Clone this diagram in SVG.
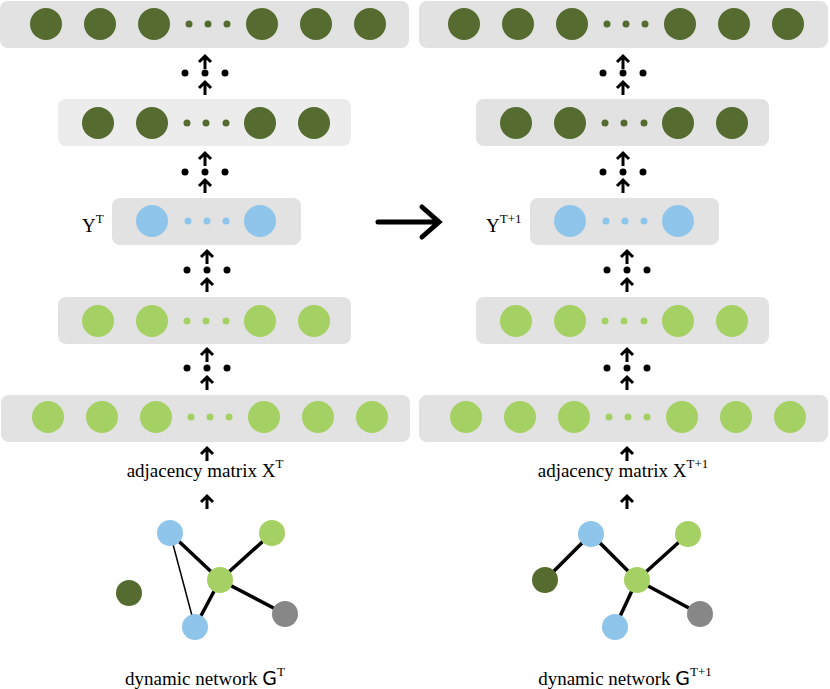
<svg xmlns="http://www.w3.org/2000/svg" width="830" height="689" viewBox="0 0 830 689">
<style>
.bar{fill:#e2e2e2}
.dg{fill:#566b30}.lg{fill:#a5d063}.bl{fill:#8fc5eb}.gr{fill:#878787}
.t{font-family:"Liberation Serif",serif;font-size:19px;fill:#000}
.e{stroke:#000;stroke-width:3.5}
.et{stroke:#000;stroke-width:1.5}
.ar{stroke:#000;stroke-width:3;fill:none}
</style>
<defs>
<g id="up"><path d="M0 14V2M-6 7L0 1L6 7" class="ar"/></g>
<g id="dots"><circle cx="-20" cy="0" r="3.5"/><circle cx="0" cy="0" r="3.5"/><circle cx="20" cy="0" r="3.5"/></g>
</defs>
<g id="left">
<g id="L1"><rect class="bar" x="0" y="1" width="409" height="47" rx="8"/>
<g class="dg"><circle cx="46" cy="24" r="16"/><circle cx="100" cy="24" r="16"/><circle cx="154" cy="24" r="16"/><circle cx="189" cy="24" r="3.5"/><circle cx="208" cy="24" r="3.5"/><circle cx="227" cy="24" r="3.5"/><circle cx="262" cy="24" r="16"/><circle cx="316" cy="24" r="16"/><circle cx="370" cy="24" r="16"/></g></g>
<g id="L2"><rect fill="#ececec" x="58" y="99" width="293" height="47" rx="8"/>
<g class="dg"><circle cx="98" cy="123" r="16"/><circle cx="152" cy="123" r="16"/><circle cx="187" cy="123" r="3.5"/><circle cx="206" cy="123" r="3.5"/><circle cx="226" cy="123" r="3.5"/><circle cx="260" cy="123" r="16"/><circle cx="314" cy="123" r="16"/></g></g>
<g id="L3"><rect class="bar" x="112" y="198" width="189" height="47" rx="8"/>
<g class="bl"><circle cx="152" cy="221" r="16"/><circle cx="188" cy="221" r="3.5"/><circle cx="207" cy="221" r="3.5"/><circle cx="226" cy="221" r="3.5"/><circle cx="260" cy="221" r="16"/></g>
<text class="t" x="82" y="232">Y<tspan font-size="13" dy="-9">T</tspan></text></g>
<g id="L4"><rect class="bar" x="58" y="297" width="293" height="47" rx="8"/>
<g class="lg"><circle cx="98" cy="321" r="16"/><circle cx="152" cy="321" r="16"/><circle cx="187" cy="321" r="3.5"/><circle cx="206" cy="321" r="3.5"/><circle cx="226" cy="321" r="3.5"/><circle cx="260" cy="321" r="16"/><circle cx="314" cy="321" r="16"/></g></g>
<g id="L5"><rect class="bar" x="1" y="395" width="409" height="47" rx="8"/>
<g class="lg"><circle cx="48" cy="417" r="16"/><circle cx="102" cy="417" r="16"/><circle cx="156" cy="417" r="16"/><circle cx="191" cy="417" r="3.5"/><circle cx="210" cy="417" r="3.5"/><circle cx="229" cy="417" r="3.5"/><circle cx="264" cy="417" r="16"/><circle cx="318" cy="417" r="16"/><circle cx="372" cy="417" r="16"/></g></g>
<text class="t" x="205" y="477" text-anchor="middle">adjacency matrix X<tspan font-size="13" dy="-9">T</tspan></text>
<g id="LG">
<line class="e" x1="170" y1="533" x2="220" y2="580"/><line class="e" x1="272" y1="533" x2="220" y2="580"/>
<line class="et" x1="170" y1="533" x2="195" y2="627"/><line class="e" x1="220" y1="580" x2="195" y2="627"/><line class="e" x1="220" y1="580" x2="285" y2="614"/>
<circle class="bl" cx="170" cy="533" r="13"/><circle class="lg" cx="272" cy="533" r="13"/><circle class="lg" cx="220" cy="580" r="13"/><circle class="dg" cx="129" cy="593" r="13"/><circle class="bl" cx="195" cy="627" r="13"/><circle class="gr" cx="285" cy="614" r="13"/></g>
<text class="t" x="205" y="685" text-anchor="middle">dynamic network  <tspan font-family="DejaVu Sans">G</tspan><tspan font-size="13" dy="-9">T</tspan></text>
</g>
<g id="right">
<g id="R1"><rect class="bar" x="419" y="1" width="409" height="47" rx="8"/>
<g class="dg"><circle cx="464" cy="24" r="16"/><circle cx="518" cy="24" r="16"/><circle cx="572" cy="24" r="16"/><circle cx="607" cy="24" r="3.5"/><circle cx="626" cy="24" r="3.5"/><circle cx="645" cy="24" r="3.5"/><circle cx="680" cy="24" r="16"/><circle cx="734" cy="24" r="16"/><circle cx="788" cy="24" r="16"/></g></g>
<g id="R2"><rect class="bar" x="476" y="99" width="293" height="47" rx="8"/>
<g class="dg"><circle cx="516" cy="123" r="16"/><circle cx="570" cy="123" r="16"/><circle cx="605" cy="123" r="3.5"/><circle cx="624" cy="123" r="3.5"/><circle cx="644" cy="123" r="3.5"/><circle cx="678" cy="123" r="16"/><circle cx="732" cy="123" r="16"/></g></g>
<g id="R3"><rect class="bar" x="530" y="198" width="189" height="47" rx="8"/>
<g class="bl"><circle cx="570" cy="221" r="16"/><circle cx="606" cy="221" r="3.5"/><circle cx="625" cy="221" r="3.5"/><circle cx="644" cy="221" r="3.5"/><circle cx="678" cy="221" r="16"/></g>
<text class="t" x="486" y="232">Y<tspan font-size="13" dy="-9">T+1</tspan></text></g>
<g id="R4"><rect class="bar" x="476" y="297" width="293" height="47" rx="8"/>
<g class="lg"><circle cx="516" cy="321" r="16"/><circle cx="570" cy="321" r="16"/><circle cx="605" cy="321" r="3.5"/><circle cx="624" cy="321" r="3.5"/><circle cx="644" cy="321" r="3.5"/><circle cx="678" cy="321" r="16"/><circle cx="732" cy="321" r="16"/></g></g>
<g id="R5"><rect class="bar" x="419" y="395" width="409" height="47" rx="8"/>
<g class="lg"><circle cx="466" cy="417" r="16"/><circle cx="520" cy="417" r="16"/><circle cx="574" cy="417" r="16"/><circle cx="609" cy="417" r="3.5"/><circle cx="628" cy="417" r="3.5"/><circle cx="647" cy="417" r="3.5"/><circle cx="682" cy="417" r="16"/><circle cx="736" cy="417" r="16"/><circle cx="790" cy="417" r="16"/></g></g>
<text class="t" x="623" y="477" text-anchor="middle">adjacency matrix X<tspan font-size="13" dy="-9">T+1</tspan></text>
<g id="RG">
<line class="e" x1="591" y1="534" x2="545" y2="580"/><line class="e" x1="591" y1="534" x2="637" y2="580"/><line class="e" x1="688" y1="534" x2="637" y2="580"/>
<line class="e" x1="637" y1="580" x2="615" y2="627"/><line class="e" x1="637" y1="580" x2="700" y2="614"/>
<circle class="bl" cx="591" cy="534" r="13"/><circle class="lg" cx="688" cy="534" r="13"/><circle class="lg" cx="637" cy="580" r="13"/><circle class="dg" cx="545" cy="580" r="13"/><circle class="bl" cx="615" cy="627" r="13"/><circle class="gr" cx="700" cy="614" r="13"/></g>
<text class="t" x="625" y="685" text-anchor="middle">dynamic network  <tspan font-family="DejaVu Sans">G</tspan><tspan font-size="13" dy="-9">T+1</tspan></text>
</g>
<g id="connectors">
<use href="#up" x="205" y="55"/><use href="#dots" x="205" y="73"/><use href="#up" x="205" y="81"/>
<use href="#up" x="205" y="152"/><use href="#dots" x="205" y="172"/><use href="#up" x="205" y="179"/>
<use href="#up" x="207" y="250"/><use href="#dots" x="207" y="270"/><use href="#up" x="207" y="278"/>
<use href="#up" x="207" y="348"/><use href="#dots" x="207" y="368"/><use href="#up" x="207" y="376"/>
<use href="#up" x="207" y="447"/><use href="#up" x="207" y="495"/>
<use href="#up" x="623" y="55"/><use href="#dots" x="623" y="73"/><use href="#up" x="623" y="81"/>
<use href="#up" x="623" y="152"/><use href="#dots" x="623" y="172"/><use href="#up" x="623" y="179"/>
<use href="#up" x="627" y="250"/><use href="#dots" x="627" y="270"/><use href="#up" x="627" y="278"/>
<use href="#up" x="627" y="348"/><use href="#dots" x="627" y="368"/><use href="#up" x="627" y="376"/>
<use href="#up" x="627" y="447"/><use href="#up" x="627" y="495"/>
<path d="M378 222H438M422 207L439 222L422 237" stroke="#000" stroke-width="5" fill="none" stroke-linecap="round"/>
</g>
</svg>
